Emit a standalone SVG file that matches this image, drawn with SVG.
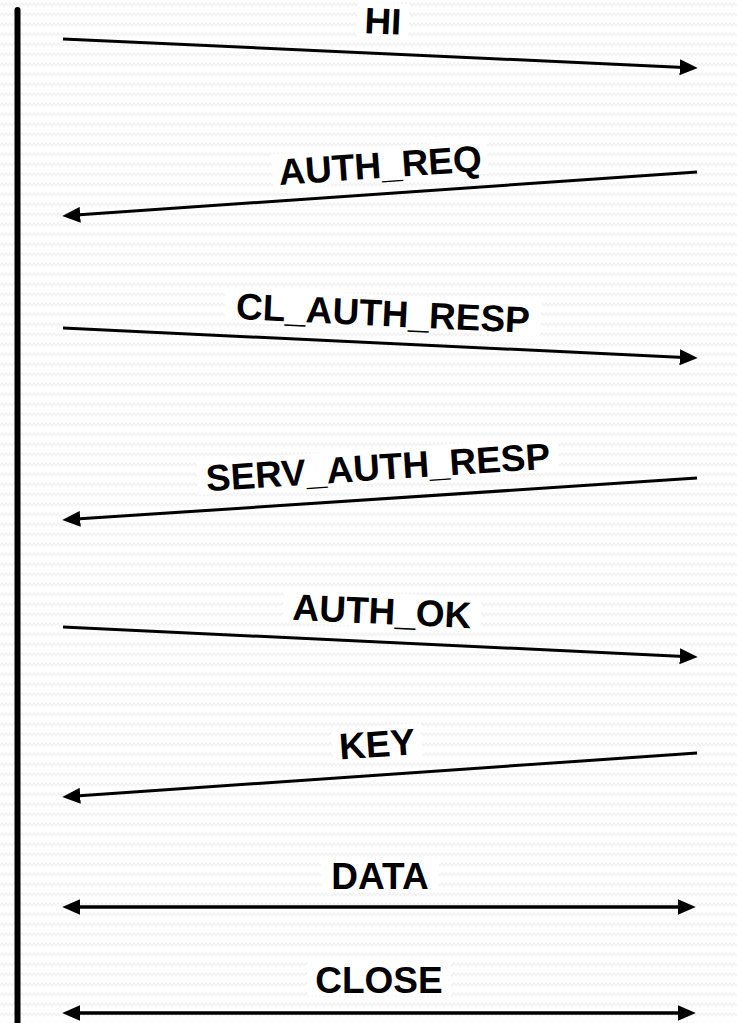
<svg xmlns="http://www.w3.org/2000/svg" width="737" height="1023" viewBox="0 0 737 1023">
  <defs>
    <!-- faint zigzag paper texture -->
    <pattern id="zigzag" width="8" height="10" patternUnits="userSpaceOnUse">
      <path d="M0,6 L2,3 L4,6 L6,3 L8,6" fill="none" stroke="#f1f1f1" stroke-width="1.3"/>
    </pattern>
    <marker id="head" markerUnits="userSpaceOnUse" markerWidth="18" markerHeight="16" viewBox="0 0 17 15" refX="4" refY="7.5" orient="auto-start-reverse">
      <path d="M0,0 L17,7.5 L0,15 Z" fill="#000"/>
    </marker>
    <style>
      .msg { fill: none; stroke: #000; stroke-width: 3; marker-end: url(#head); }
      .both { fill: none; stroke: #000; stroke-width: 3.5; marker-start: url(#head); marker-end: url(#head); }
      .box { fill: #fff; }
      .lbl { font-family: "Liberation Sans", Arial, sans-serif; font-weight: bold; font-size: 37px; fill: #000; text-anchor: middle; }
    </style>
  </defs>

  <rect width="737" height="1023" fill="#fff"/>
  <rect width="737" height="1023" fill="url(#zigzag)"/>

  <!-- lifeline -->
  <line id="lifeline" x1="17.5" y1="10" x2="17.5" y2="1030" stroke="#000" stroke-width="6" stroke-linecap="round"/>

  <g id="connectors">
    <line class="msg" x1="63" y1="39" x2="684" y2="67.4"/>
    <line class="msg" x1="697" y1="172" x2="76" y2="215.1"/>
    <line class="msg" x1="63" y1="328" x2="684" y2="357.4"/>
    <line class="msg" x1="697" y1="478" x2="76" y2="519.1"/>
    <line class="msg" x1="63" y1="627" x2="684" y2="656.4"/>
    <line class="msg" x1="697" y1="753" x2="76" y2="796.1"/>
    <line class="both" x1="76" y1="907" x2="682" y2="907"/>
    <line class="both" x1="76" y1="1013" x2="682" y2="1013"/>
  </g>

  <g id="label-hi" transform="translate(383,21) rotate(2.62)">
    <rect class="box" x="-26" y="-18" width="52" height="34"/>
    <text class="lbl" x="0" y="13">HI</text>
  </g>
  <g id="label-auth-req" transform="translate(380,165) rotate(-3.97)">
    <rect class="box" x="-108" y="-18" width="216" height="34"/>
    <text class="lbl" x="0" y="13">AUTH_REQ</text>
  </g>
  <g id="label-cl-auth-resp" transform="translate(383,313) rotate(2.71)">
    <rect class="box" x="-158" y="-18" width="316" height="34"/>
    <text class="lbl" x="0" y="13">CL_AUTH_RESP</text>
  </g>
  <g id="label-serv-auth-resp" transform="translate(378,467) rotate(-3.79)">
    <rect class="box" x="-181" y="-18" width="362" height="34"/>
    <text class="lbl" x="0" y="13">SERV_AUTH_RESP</text>
  </g>
  <g id="label-auth-ok" transform="translate(382,611) rotate(2.71)">
    <rect class="box" x="-99" y="-18" width="198" height="34"/>
    <text class="lbl" x="0" y="13">AUTH_OK</text>
  </g>
  <g id="label-key" transform="translate(377,744) rotate(-3.97)">
    <rect class="box" x="-45" y="-18" width="90" height="34"/>
    <text class="lbl" x="0" y="13">KEY</text>
  </g>
  <g id="label-data" transform="translate(380,875.5)">
    <rect class="box" x="-59" y="-18" width="118" height="34"/>
    <text class="lbl" x="0" y="13">DATA</text>
  </g>
  <g id="label-close" transform="translate(379,979.5)">
    <rect class="box" x="-72" y="-18" width="144" height="34"/>
    <text class="lbl" x="0" y="13">CLOSE</text>
  </g>
</svg>
